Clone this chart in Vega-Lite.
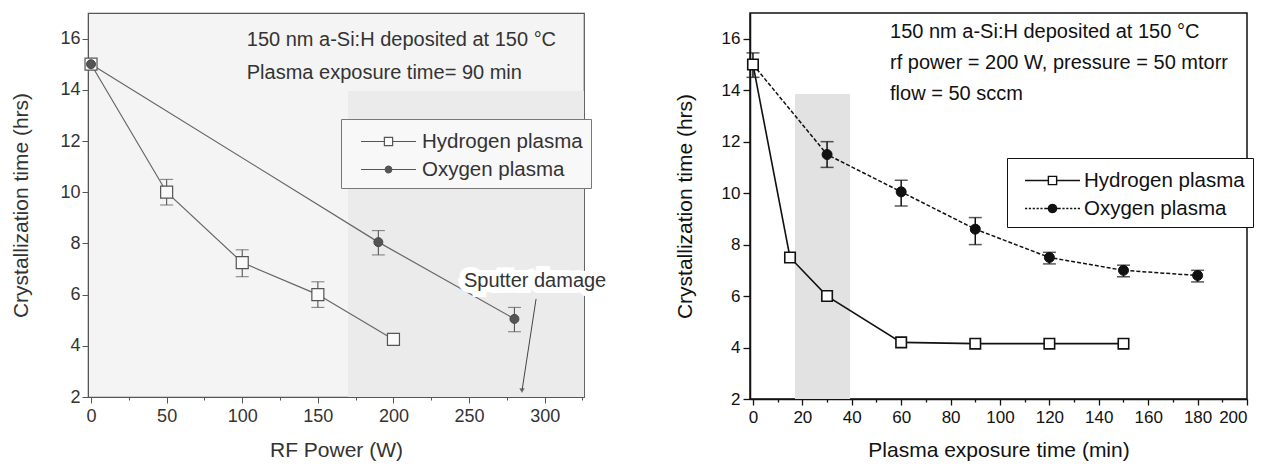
{
  "$schema": "https://vega.github.io/schema/vega-lite/v6.json",
  "padding": {"left": 10, "top": 12, "right": 0, "bottom": 0},
  "background": "white",
  "config": {
    "font": "Liberation Sans",
    "axis": {"grid": false, "labelFont": "Liberation Sans", "titleFont": "Liberation Sans", "titleFontWeight": "normal", "labelOverlap": false},
    "legend": {"labelLimit": 400}
  },
  "datasets": {
    "pts": [
      {"panel": "L", "series": "Hydrogen plasma", "x": 0, "y": 15},
      {"panel": "L", "series": "Hydrogen plasma", "x": 50, "y": 10, "lo": 9.5, "hi": 10.5},
      {"panel": "L", "series": "Hydrogen plasma", "x": 100, "y": 7.25, "lo": 6.7, "hi": 7.75},
      {"panel": "L", "series": "Hydrogen plasma", "x": 150, "y": 6.0, "lo": 5.5, "hi": 6.5},
      {"panel": "L", "series": "Hydrogen plasma", "x": 200, "y": 4.25},
      {"panel": "L", "series": "Oxygen plasma", "x": 0, "y": 15},
      {"panel": "L", "series": "Oxygen plasma", "x": 190, "y": 8.05, "lo": 7.55, "hi": 8.5},
      {"panel": "L", "series": "Oxygen plasma", "x": 280, "y": 5.05, "lo": 4.55, "hi": 5.5},
      {"panel": "R", "series": "Hydrogen plasma", "x": 0, "y": 15},
      {"panel": "R", "series": "Hydrogen plasma", "x": 15, "y": 7.5},
      {"panel": "R", "series": "Hydrogen plasma", "x": 30, "y": 6.0},
      {"panel": "R", "series": "Hydrogen plasma", "x": 60, "y": 4.2},
      {"panel": "R", "series": "Hydrogen plasma", "x": 90, "y": 4.15},
      {"panel": "R", "series": "Hydrogen plasma", "x": 120, "y": 4.15},
      {"panel": "R", "series": "Hydrogen plasma", "x": 150, "y": 4.15},
      {"panel": "R", "series": "Oxygen plasma", "x": 0, "y": 15, "lo": 14.5, "hi": 15.45},
      {"panel": "R", "series": "Oxygen plasma", "x": 30, "y": 11.5, "lo": 11.0, "hi": 12.0},
      {"panel": "R", "series": "Oxygen plasma", "x": 60, "y": 10.05, "lo": 9.5, "hi": 10.5},
      {"panel": "R", "series": "Oxygen plasma", "x": 90, "y": 8.6, "lo": 8.0, "hi": 9.05},
      {"panel": "R", "series": "Oxygen plasma", "x": 120, "y": 7.5, "lo": 7.25, "hi": 7.7},
      {"panel": "R", "series": "Oxygen plasma", "x": 150, "y": 7.0, "lo": 6.75, "hi": 7.2},
      {"panel": "R", "series": "Oxygen plasma", "x": 180, "y": 6.8, "lo": 6.55, "hi": 7.0}
    ],
    "notes": [
      {"panel": "L", "x": 103, "y": 15.95, "label": "150 nm a-Si:H deposited at 150 °C"},
      {"panel": "L", "x": 103, "y": 14.66, "label": "Plasma exposure time= 90 min"},
      {"panel": "R", "x": 55.5, "y": 16.26, "label": "150 nm a-Si:H deposited at 150 °C"},
      {"panel": "R", "x": 55.5, "y": 15.06, "label": "rf power = 200 W, pressure = 50 mtorr"},
      {"panel": "R", "x": 55.5, "y": 13.85, "label": "flow = 50 sccm"},
      {"panel": "S", "x": 246.6, "y": 6.53, "label": "Sputter damage"}
    ],
    "arrow": [{"x": 294.3, "y": 5.83, "x2": 285, "y2": 2.25}],
    "bands": [
      {"panel": "L", "x": 170, "x2": 326, "y": 2, "y2": 13.95},
      {"panel": "R", "x": 17, "x2": 39.3, "y": 2, "y2": 13.85}
    ]
  },
  "spacing": 66,
  "resolve": {
    "scale": {"x": "independent", "y": "independent", "shape": "independent", "fill": "independent", "stroke": "independent"},
    "legend": {"shape": "independent", "fill": "independent", "stroke": "independent"}
  },
  "hconcat": [
    {
      "width": 496,
      "height": 384,
      "view": {"stroke": "#555", "strokeWidth": 1.2, "fill": "#f4f4f4"},
      "encoding": {
        "x": {
          "field": "x", "type": "quantitative", "title": "RF Power (W)",
          "scale": {"domain": [-2, 326], "nice": false, "zero": false},
          "axis": {
            "values": [0, 25, 50, 75, 100, 125, 150, 175, 200, 225, 250, 275, 300, 325],
            "labelExpr": "datum.value % 50 === 0 ? datum.label : ''",
            "tickSize": {"condition": {"test": "datum.value % 50 === 0", "value": 6}, "value": 3},
            "domainColor": "#555", "tickColor": "#555", "labelColor": "#333", "titleColor": "#333",
            "labelFontSize": 18, "titleFontSize": 21, "labelPadding": 4, "titlePadding": 14
          }
        }
      },
      "layer": [
        {
          "data": {"name": "bands"},
          "transform": [{"filter": "datum.panel === 'L'"}],
          "mark": {"type": "rect", "fill": "#ebebeb"},
          "encoding": {
            "x": {"field": "x", "type": "quantitative", "title": "RF Power (W)"},
            "x2": {"field": "x2"},
            "y": {"field": "y", "type": "quantitative", "title": "Crystallization time (hrs)",
              "scale": {"domain": [2, 17], "nice": false, "zero": false},
              "axis": {
                "values": [2, 3, 4, 5, 6, 7, 8, 9, 10, 11, 12, 13, 14, 15, 16, 17],
                "labelExpr": "datum.value % 2 === 0 ? datum.label : ''",
                "tickSize": {"condition": {"test": "datum.value % 2 === 0", "value": 6}, "value": 3},
                "domainColor": "#555", "tickColor": "#555", "labelColor": "#333", "titleColor": "#333",
                "labelFontSize": 18, "titleFontSize": 21, "labelPadding": 2, "titlePadding": 28
              }
            },
            "y2": {"field": "y2"}
          }
        },
        {
          "data": {"name": "pts"},
          "transform": [{"filter": "datum.panel === 'L' && datum.series === 'Hydrogen plasma'"}],
          "mark": {"type": "line", "color": "#666", "strokeWidth": 1.2},
          "encoding": {"y": {"field": "y", "type": "quantitative", "title": "Crystallization time (hrs)"}}
        },
        {
          "data": {"name": "pts"},
          "transform": [{"filter": "datum.panel === 'L' && datum.series === 'Oxygen plasma'"}],
          "mark": {"type": "line", "color": "#666", "strokeWidth": 1.2},
          "encoding": {"y": {"field": "y", "type": "quantitative", "title": "Crystallization time (hrs)"}}
        },
        {
          "data": {"name": "pts"},
          "transform": [{"filter": "datum.panel === 'L' && isValid(datum.lo)"}],
          "mark": {"type": "rule", "color": "#555", "strokeWidth": 1.1},
          "encoding": {
            "y": {"field": "lo", "type": "quantitative", "title": "Crystallization time (hrs)"},
            "y2": {"field": "hi"}
          }
        },
        {
          "data": {"name": "pts"},
          "transform": [{"filter": "datum.panel === 'L' && isValid(datum.lo)"}, {"fold": ["lo", "hi"], "as": ["k", "v"]}],
          "mark": {"type": "tick", "orient": "horizontal", "size": 13, "thickness": 1.1, "color": "#555"},
          "encoding": {"y": {"field": "v", "type": "quantitative", "title": "Crystallization time (hrs)"}}
        },
        {
          "data": {"name": "pts"},
          "transform": [{"filter": "datum.panel === 'L' && datum.series === 'Hydrogen plasma'"}],
          "mark": {"type": "point", "shape": "square", "filled": true, "fill": "#fafafa", "stroke": "#555", "strokeWidth": 1.2, "size": 144, "opacity": 1},
          "encoding": {"y": {"field": "y", "type": "quantitative", "title": "Crystallization time (hrs)"}}
        },
        {
          "data": {"name": "pts"},
          "transform": [{"filter": "datum.panel === 'L' && datum.series === 'Oxygen plasma'"}],
          "mark": {"type": "point", "shape": "circle", "filled": true, "fill": "#555", "stroke": "#444", "strokeWidth": 1, "size": 80, "opacity": 1},
          "encoding": {"y": {"field": "y", "type": "quantitative", "title": "Crystallization time (hrs)"}}
        },
        {
          "data": {"name": "pts"},
          "transform": [{"filter": "datum.panel === 'none'"}],
          "mark": {"type": "point", "filled": true, "strokeWidth": 1.2, "size": 756, "opacity": 1},
          "encoding": {
            "y": {"field": "y", "type": "quantitative", "title": "Crystallization time (hrs)"},
            "shape": {
              "field": "series", "type": "nominal",
              "scale": {"domain": ["Hydrogen plasma", "Oxygen plasma"],
                "range": ["M-2,0H-0.3M0.3,0H2M-0.3,-0.3H0.3V0.3H-0.3Z",
                          "M-2,0H-0.24M0.24,0H2M0.24,0L0.208,0.12L0.12,0.208L0,0.24L-0.12,0.208L-0.208,0.12L-0.24,0L-0.208,-0.12L-0.12,-0.208L0,-0.24L0.12,-0.208L0.208,-0.12Z"]},
              "legend": {"orient": "none", "legendX": 253, "legendY": 106, "title": null, "strokeColor": "#777", "fillColor": "#f8f8f8", "padding": 8, "labelFontSize": 20.5, "labelLimit": 400, "labelColor": "#333", "symbolSize": 756, "symbolStrokeWidth": 1.2, "rowPadding": 3, "symbolOffset": 25, "labelOffset": 19, "cornerRadius": 0}
            },
            "fill": {
              "field": "series", "type": "nominal",
              "scale": {"domain": ["Hydrogen plasma", "Oxygen plasma"], "range": ["#fafafa", "#555"]},
              "legend": {"orient": "none", "legendX": 253, "legendY": 106, "title": null, "strokeColor": "#777", "fillColor": "#f8f8f8", "padding": 8, "labelFontSize": 20.5, "labelLimit": 400, "labelColor": "#333", "symbolSize": 756, "symbolStrokeWidth": 1.2, "rowPadding": 3, "symbolOffset": 25, "labelOffset": 19, "cornerRadius": 0}
            },
            "stroke": {
              "field": "series", "type": "nominal",
              "scale": {"domain": ["Hydrogen plasma", "Oxygen plasma"], "range": ["#555", "#555"]},
              "legend": {"orient": "none", "legendX": 253, "legendY": 106, "title": null, "strokeColor": "#777", "fillColor": "#f8f8f8", "padding": 8, "labelFontSize": 20.5, "labelLimit": 400, "labelColor": "#333", "symbolSize": 756, "symbolStrokeWidth": 1.2, "rowPadding": 3, "symbolOffset": 25, "labelOffset": 19, "cornerRadius": 0}
            }
          }
        },
        {
          "data": {"name": "notes"},
          "transform": [{"filter": "datum.panel === 'L'"}],
          "mark": {"type": "text", "align": "left", "baseline": "middle", "fontSize": 20, "color": "#333"},
          "encoding": {
            "y": {"field": "y", "type": "quantitative", "title": "Crystallization time (hrs)"},
            "text": {"field": "label"}
          }
        },
        {
          "data": {"name": "notes"},
          "transform": [{"filter": "datum.panel === 'S'"}],
          "mark": {"type": "text", "align": "left", "baseline": "middle", "fontSize": 20, "fill": "white", "stroke": "white", "strokeWidth": 12},
          "encoding": {
            "y": {"field": "y", "type": "quantitative", "title": "Crystallization time (hrs)"},
            "text": {"field": "label"}
          }
        },
        {
          "data": {"name": "notes"},
          "transform": [{"filter": "datum.panel === 'S'"}],
          "mark": {"type": "text", "align": "left", "baseline": "middle", "fontSize": 20, "color": "#333"},
          "encoding": {
            "y": {"field": "y", "type": "quantitative", "title": "Crystallization time (hrs)"},
            "text": {"field": "label"}
          }
        },
        {
          "data": {"name": "arrow"},
          "mark": {"type": "rule", "color": "#444", "strokeWidth": 1},
          "encoding": {
            "x2": {"field": "x2"},
            "y": {"field": "y", "type": "quantitative", "title": "Crystallization time (hrs)"},
            "y2": {"field": "y2"}
          }
        },
        {
          "data": {"name": "arrow"},
          "mark": {"type": "point", "shape": "triangle-down", "filled": true, "color": "#444", "size": 30},
          "encoding": {
            "x": {"field": "x2", "type": "quantitative", "title": "RF Power (W)"},
            "y": {"field": "y2", "type": "quantitative", "title": "Crystallization time (hrs)"}
          }
        }
      ]
    },
    {
      "width": 497,
      "height": 386,
      "view": {"stroke": "#111", "strokeWidth": 1.5, "fill": "white"},
      "encoding": {
        "x": {
          "field": "x", "type": "quantitative", "title": "Plasma exposure time (min)",
          "scale": {"domain": [-1.2, 200], "nice": false, "zero": false},
          "axis": {
            "values": [0, 10, 20, 30, 40, 50, 60, 70, 80, 90, 100, 110, 120, 130, 140, 150, 160, 170, 180, 190, 200],
            "labelExpr": "datum.value % 20 === 0 ? datum.label : ''",
            "tickSize": {"condition": {"test": "datum.value % 20 === 0", "value": 6}, "value": 3},
            "domainColor": "#111", "tickColor": "#111", "domainWidth": 1.5, "tickWidth": 1.3, "labelColor": "#111", "titleColor": "#111",
            "labelFontSize": 17, "titleFontSize": 21, "labelPadding": 4, "titlePadding": 14
          }
        }
      },
      "layer": [
        {
          "data": {"name": "bands"},
          "transform": [{"filter": "datum.panel === 'R'"}],
          "mark": {"type": "rect", "fill": "#e2e2e2"},
          "encoding": {
            "x": {"field": "x", "type": "quantitative", "title": "Plasma exposure time (min)"},
            "x2": {"field": "x2"},
            "y": {"field": "y", "type": "quantitative", "title": "Crystallization time (hrs)",
              "scale": {"domain": [2, 17], "nice": false, "zero": false},
              "axis": {
                "values": [2, 3, 4, 5, 6, 7, 8, 9, 10, 11, 12, 13, 14, 15, 16, 17],
                "labelExpr": "datum.value % 2 === 0 ? datum.label : ''",
                "tickSize": {"condition": {"test": "datum.value % 2 === 0", "value": 7}, "value": 3},
                "domainColor": "#111", "tickColor": "#111", "domainWidth": 1.5, "tickWidth": 1.3, "labelColor": "#111", "titleColor": "#111",
                "labelFontSize": 17, "titleFontSize": 21, "labelPadding": 3, "titlePadding": 26
              }
            },
            "y2": {"field": "y2"}
          }
        },
        {
          "data": {"name": "pts"},
          "transform": [{"filter": "datum.panel === 'R' && datum.series === 'Hydrogen plasma'"}],
          "mark": {"type": "line", "color": "#111", "strokeWidth": 1.6},
          "encoding": {"y": {"field": "y", "type": "quantitative", "title": "Crystallization time (hrs)"}}
        },
        {
          "data": {"name": "pts"},
          "transform": [{"filter": "datum.panel === 'R' && datum.series === 'Oxygen plasma'"}],
          "mark": {"type": "line", "color": "#111", "strokeWidth": 1.5, "strokeDash": [4, 2]},
          "encoding": {"y": {"field": "y", "type": "quantitative", "title": "Crystallization time (hrs)"}}
        },
        {
          "data": {"name": "pts"},
          "transform": [{"filter": "datum.panel === 'R' && isValid(datum.lo)"}],
          "mark": {"type": "rule", "color": "#111", "strokeWidth": 1.5},
          "encoding": {
            "y": {"field": "lo", "type": "quantitative", "title": "Crystallization time (hrs)"},
            "y2": {"field": "hi"}
          }
        },
        {
          "data": {"name": "pts"},
          "transform": [{"filter": "datum.panel === 'R' && isValid(datum.lo)"}, {"fold": ["lo", "hi"], "as": ["k", "v"]}],
          "mark": {"type": "tick", "orient": "horizontal", "size": 13, "thickness": 1.5, "color": "#111"},
          "encoding": {"y": {"field": "v", "type": "quantitative", "title": "Crystallization time (hrs)"}}
        },
        {
          "data": {"name": "pts"},
          "transform": [{"filter": "datum.panel === 'R' && datum.series === 'Oxygen plasma'"}],
          "mark": {"type": "point", "shape": "circle", "filled": true, "fill": "#111", "stroke": "#111", "strokeWidth": 1, "size": 100, "opacity": 1},
          "encoding": {"y": {"field": "y", "type": "quantitative", "title": "Crystallization time (hrs)"}}
        },
        {
          "data": {"name": "pts"},
          "transform": [{"filter": "datum.panel === 'R' && datum.series === 'Hydrogen plasma'"}],
          "mark": {"type": "point", "shape": "square", "filled": true, "fill": "white", "stroke": "#111", "strokeWidth": 1.6, "size": 110, "opacity": 1},
          "encoding": {"y": {"field": "y", "type": "quantitative", "title": "Crystallization time (hrs)"}}
        },
        {
          "data": {"name": "pts"},
          "transform": [{"filter": "datum.panel === 'none'"}],
          "mark": {"type": "point", "filled": true, "strokeWidth": 1.4, "size": 756, "opacity": 1},
          "encoding": {
            "y": {"field": "y", "type": "quantitative", "title": "Crystallization time (hrs)"},
            "shape": {
              "field": "series", "type": "nominal",
              "scale": {"domain": ["Hydrogen plasma", "Oxygen plasma"],
                "range": ["M-2,0H-0.3M0.3,0H2M-0.3,-0.3H0.3V0.3H-0.3Z",
                          "M-2,0H-1.84M-1.72,0H-1.56M-1.44,0H-1.28M-1.16,0H-1M-0.88,0H-0.72M-0.6,0H-0.3M0.3,0H0.6M0.72,0H0.88M1,0H1.16M1.28,0H1.44M1.56,0H1.72M1.84,0H2M0.3,0L0.26,0.15L0.15,0.26L0,0.3L-0.15,0.26L-0.26,0.15L-0.3,0L-0.26,-0.15L-0.15,-0.26L0,-0.3L0.15,-0.26L0.26,-0.15Z"]},
              "legend": {"orient": "none", "legendX": 257, "legendY": 145, "title": null, "strokeColor": "#111", "fillColor": "white", "padding": 8, "labelFontSize": 20.5, "labelLimit": 400, "labelColor": "#111", "symbolSize": 756, "symbolStrokeWidth": 1.4, "rowPadding": 3, "symbolOffset": 23, "labelOffset": 17, "cornerRadius": 0}
            },
            "fill": {
              "field": "series", "type": "nominal",
              "scale": {"domain": ["Hydrogen plasma", "Oxygen plasma"], "range": ["white", "#111"]},
              "legend": {"orient": "none", "legendX": 257, "legendY": 145, "title": null, "strokeColor": "#111", "fillColor": "white", "padding": 8, "labelFontSize": 20.5, "labelLimit": 400, "labelColor": "#111", "symbolSize": 756, "symbolStrokeWidth": 1.4, "rowPadding": 3, "symbolOffset": 23, "labelOffset": 17, "cornerRadius": 0}
            },
            "stroke": {
              "field": "series", "type": "nominal",
              "scale": {"domain": ["Hydrogen plasma", "Oxygen plasma"], "range": ["#111", "#111"]},
              "legend": {"orient": "none", "legendX": 257, "legendY": 145, "title": null, "strokeColor": "#111", "fillColor": "white", "padding": 8, "labelFontSize": 20.5, "labelLimit": 400, "labelColor": "#111", "symbolSize": 756, "symbolStrokeWidth": 1.4, "rowPadding": 3, "symbolOffset": 23, "labelOffset": 17, "cornerRadius": 0}
            }
          }
        },
        {
          "data": {"name": "notes"},
          "transform": [{"filter": "datum.panel === 'R'"}],
          "mark": {"type": "text", "align": "left", "baseline": "middle", "fontSize": 20, "color": "#111"},
          "encoding": {
            "y": {"field": "y", "type": "quantitative", "title": "Crystallization time (hrs)"},
            "text": {"field": "label"}
          }
        }
      ]
    }
  ]
}
